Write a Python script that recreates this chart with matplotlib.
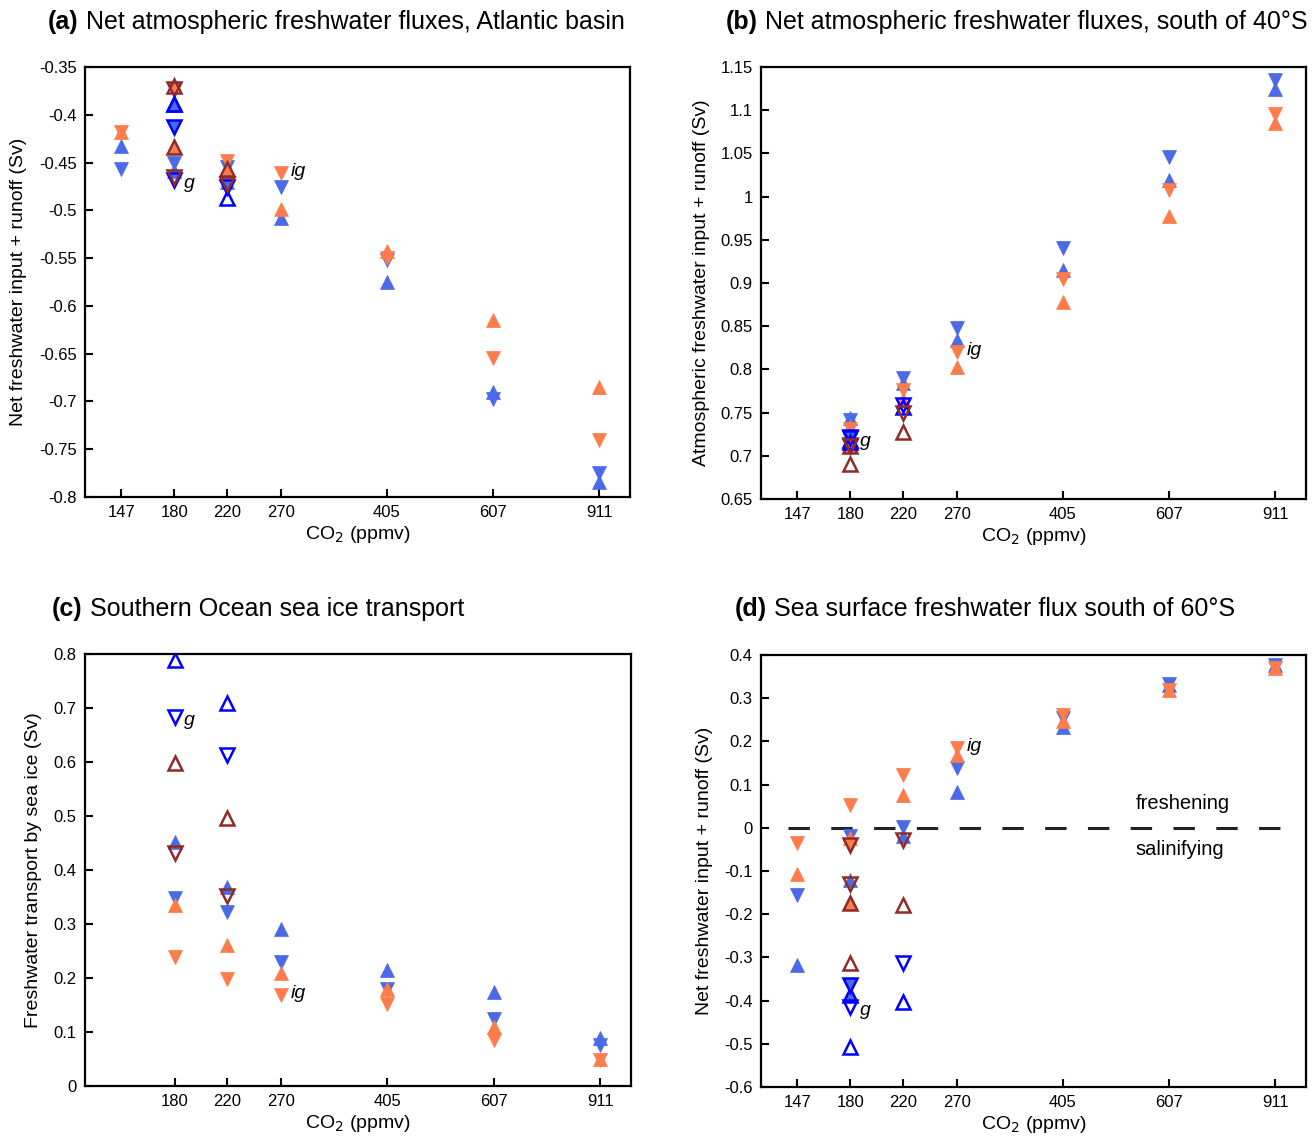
import numpy as np
import matplotlib
matplotlib.use("Agg")
import matplotlib.pyplot as plt
from matplotlib.ticker import NullLocator, FixedLocator, FixedFormatter

plt.rcParams['font.family'] = ['Liberation Sans', 'DejaVu Sans']
plt.rcParams['axes.unicode_minus'] = False

nan = np.nan
co2 = [147, 180, 220, 270, 405, 607, 911]

# ---------------- panel (a) ----------------
a_B_up = [-0.433, -0.459, -0.470, -0.508, -0.575, -0.690, -0.784]
a_B_dn = [-0.457, -0.450, -0.455, -0.476, -0.552, -0.697, -0.775]
a_C_up = [-0.418, -0.434, -0.460, -0.499, -0.543, -0.615, -0.685]
a_C_dn = [-0.418, -0.374, -0.448, -0.461, -0.550, -0.655, -0.740]
a_FB_up = [nan, -0.389, nan, nan, nan, nan, nan]
a_FB_dn = [nan, -0.413, nan, nan, nan, nan, nan]
a_FR_up = [nan, -0.434, nan, nan, nan, nan, nan]
a_FR_dn = [nan, -0.373, nan, nan, nan, nan, nan]
a_OB_up = [nan, -0.389, -0.487, nan, nan, nan, nan]
a_OB_dn = [nan, -0.468, -0.476, nan, nan, nan, nan]
a_OR_up = [nan, -0.370, -0.457, nan, nan, nan, nan]
a_OR_dn = [nan, -0.465, -0.472, nan, nan, nan, nan]

# ---------------- panel (b) ----------------
b_B_up = [nan, 0.744, 0.784, 0.834, 0.915, 1.019, 1.125]
b_B_dn = [nan, 0.742, 0.790, 0.848, 0.941, 1.046, 1.135]
b_C_up = [nan, 0.733, 0.765, 0.803, 0.878, 0.977, 1.085]
b_C_dn = [nan, 0.731, 0.776, 0.820, 0.905, 1.008, 1.096]
b_FB_up = [nan, 0.718, nan, nan, nan, nan, nan]
b_FB_dn = [nan, 0.722, nan, nan, nan, nan, nan]
b_FR_up = [nan, 0.711, nan, nan, nan, nan, nan]
b_FR_dn = [nan, 0.712, nan, nan, nan, nan, nan]
b_OB_up = [nan, 0.716, 0.757, nan, nan, nan, nan]
b_OB_dn = [nan, 0.721, 0.759, nan, nan, nan, nan]
b_OR_up = [nan, 0.690, 0.728, nan, nan, nan, nan]
b_OR_dn = [nan, 0.711, 0.749, nan, nan, nan, nan]

# ---------------- panel (c) ----------------
c_B_up = [nan, 0.451, 0.369, 0.290, 0.215, 0.175, 0.089]
c_B_dn = [nan, 0.348, 0.323, 0.230, 0.179, 0.124, 0.076]
c_C_up = [nan, 0.335, 0.261, 0.209, 0.180, 0.110, 0.050]
c_C_dn = [nan, 0.239, 0.199, 0.169, 0.152, 0.086, 0.049]
c_FB_up = [nan] * 7
c_FB_dn = [nan] * 7
c_FR_up = [nan] * 7
c_FR_dn = [nan] * 7
c_OB_up = [nan, 0.789, 0.709, nan, nan, nan, nan]
c_OB_dn = [nan, 0.684, 0.613, nan, nan, nan, nan]
c_OR_up = [nan, 0.599, 0.496, nan, nan, nan, nan]
c_OR_dn = [nan, 0.432, 0.351, nan, nan, nan, nan]

# ---------------- panel (d) ----------------
d_B_up = [-0.318, -0.120, -0.020, 0.084, 0.233, 0.331, 0.378]
d_B_dn = [-0.156, -0.020, 0.003, 0.138, 0.255, 0.333, 0.376]
d_C_up = [-0.106, -0.023, 0.076, 0.169, 0.248, 0.320, 0.369]
d_C_dn = [-0.036, 0.053, 0.122, 0.184, 0.262, 0.320, 0.369]
d_FB_up = [nan, -0.387, nan, nan, nan, nan, nan]
d_FB_dn = [nan, -0.364, nan, nan, nan, nan, nan]
d_FR_up = [nan, -0.175, nan, nan, nan, nan, nan]
d_FR_dn = [nan, -0.039, nan, nan, nan, nan, nan]
d_OB_up = [nan, -0.507, -0.403, nan, nan, nan, nan]
d_OB_dn = [nan, -0.414, -0.314, nan, nan, nan, nan]
d_OR_up = [nan, -0.314, -0.179, nan, nan, nan, nan]
d_OR_dn = [nan, -0.130, -0.028, nan, nan, nan, nan]

titles = ["Net atmospheric freshwater fluxes, Atlantic basin",
          "Net atmospheric freshwater fluxes, south of 40°S",
          "Southern Ocean sea ice transport",
          "Sea surface freshwater flux south of 60°S"]
panel_tags = ["(a)", "(b)", "(c)", "(d)"]
ylabels = ["Net freshwater input + runoff (Sv)",
           "Atmospheric freshwater input + runoff (Sv)",
           "Freshwater transport by sea ice (Sv)",
           "Net freshwater input + runoff (Sv)"]
yticks_a = [-0.35, -0.4, -0.45, -0.5, -0.55, -0.6, -0.65, -0.7, -0.75, -0.8]
yticks_b = [0.65, 0.7, 0.75, 0.8, 0.85, 0.9, 0.95, 1, 1.05, 1.1, 1.15]
yticks_c = [0, 0.1, 0.2, 0.3, 0.4, 0.5, 0.6, 0.7, 0.8]
yticks_d = [-0.6, -0.5, -0.4, -0.3, -0.2, -0.1, 0, 0.1, 0.2, 0.3, 0.4]
xticks_abd = [147, 180, 220, 270, 405, 607, 911]
xticks_c = [180, 220, 270, 405, 607, 911]

ROYAL = '#4a6ae6'
CORAL = '#fd7c4c'
BLUE = '#0000ff'
BROWN = '#8e2b2b'

W, H = 1314, 1140
fig = plt.figure(figsize=(W / 100, H / 100), dpi=100)

boxes = [(85, 630, 67, 497), (761, 1306, 67, 499),
         (85, 631, 654, 1086), (761, 1306, 655, 1087)]
ylims = [(-0.8, -0.35), (0.65, 1.15), (0, 0.8), (-0.6, 0.4)]
yt = [yticks_a, yticks_b, yticks_c, yticks_d]
xt = [xticks_abd, xticks_abd, xticks_c, xticks_abd]
ylab_x = [-0.106, -0.094, -0.079, -0.088]
title_pos = [(48, 22), (726, 22), (52, 609), (735, 609)]

data = [
    dict(B_up=a_B_up, B_dn=a_B_dn, C_up=a_C_up, C_dn=a_C_dn, FB_up=a_FB_up, FB_dn=a_FB_dn,
         FR_up=a_FR_up, FR_dn=a_FR_dn, OB_up=a_OB_up, OB_dn=a_OB_dn, OR_up=a_OR_up, OR_dn=a_OR_dn),
    dict(B_up=b_B_up, B_dn=b_B_dn, C_up=b_C_up, C_dn=b_C_dn, FB_up=b_FB_up, FB_dn=b_FB_dn,
         FR_up=b_FR_up, FR_dn=b_FR_dn, OB_up=b_OB_up, OB_dn=b_OB_dn, OR_up=b_OR_up, OR_dn=b_OR_dn),
    dict(B_up=c_B_up, B_dn=c_B_dn, C_up=c_C_up, C_dn=c_C_dn, FB_up=c_FB_up, FB_dn=c_FB_dn,
         FR_up=c_FR_up, FR_dn=c_FR_dn, OB_up=c_OB_up, OB_dn=c_OB_dn, OR_up=c_OR_up, OR_dn=c_OR_dn),
    dict(B_up=d_B_up, B_dn=d_B_dn, C_up=d_C_up, C_dn=d_C_dn, FB_up=d_FB_up, FB_dn=d_FB_dn,
         FR_up=d_FR_up, FR_dn=d_FR_dn, OB_up=d_OB_up, OB_dn=d_OB_dn, OR_up=d_OR_up, OR_dn=d_OR_dn),
]

styles = [
    ('B_up', '^', ROYAL, ROYAL, 0.5),
    ('B_dn', 'v', ROYAL, ROYAL, 0.5),
    ('C_up', '^', CORAL, CORAL, 0.5),
    ('C_dn', 'v', CORAL, CORAL, 0.5),
    ('FB_up', '^', ROYAL, BLUE, 1.8),
    ('FB_dn', 'v', ROYAL, BLUE, 1.8),
    ('FR_up', '^', CORAL, BROWN, 1.8),
    ('FR_dn', 'v', CORAL, BROWN, 1.8),
    ('OB_up', '^', 'none', BLUE, 1.8),
    ('OB_dn', 'v', 'none', BLUE, 1.8),
    ('OR_up', '^', 'none', BROWN, 1.8),
    ('OR_dn', 'v', 'none', BROWN, 1.8),
]

for i in range(4):
    l, r, t, b = boxes[i]
    ax = fig.add_axes([l / W, 1 - b / H, (r - l) / W, (b - t) / H])
    ax.set_xscale('log')
    ax.set_xlim(128, 1024)
    ax.set_ylim(*ylims[i])
    for key, mk, fc, ec, mew in styles:
        ax.plot(co2, data[i][key], linestyle='none', marker=mk, ms=10,
                mfc=fc, mec=ec, mew=mew, zorder=3)
    ax.xaxis.set_major_locator(FixedLocator(xt[i]))
    ax.xaxis.set_major_formatter(FixedFormatter([str(v) for v in xt[i]]))
    ax.xaxis.set_minor_locator(NullLocator())
    ax.yaxis.set_major_locator(FixedLocator(yt[i]))
    ax.yaxis.set_major_formatter(FixedFormatter(['{:g}'.format(v) for v in yt[i]]))
    ax.tick_params(direction='in', length=6, width=1.5, labelsize=12, pad=6,
                   top=False, right=False)
    for s in ax.spines.values():
        s.set_linewidth(1.6)
    ax.set_ylabel(ylabels[i], fontsize=14)
    ax.yaxis.set_label_coords(ylab_x[i], 0.5)
    ax.set_xlabel('CO$_2$ (ppmv)', fontsize=14)
    ax.xaxis.set_label_coords(0.5, -0.062)

    # labels g / ig
    ax.annotate('g', xy=(180, data[i]['OB_dn'][1]), xytext=(7, -3),
                textcoords='offset points', ha='left', va='center',
                fontsize=14, style='italic')
    ax.annotate('ig', xy=(270, data[i]['C_dn'][3]), xytext=(7, 1),
                textcoords='offset points', ha='left', va='center',
                fontsize=14, style='italic')

    # titles
    tx, ty = title_pos[i]
    t1 = fig.text(tx / W, 1 - ty / H, panel_tags[i], fontsize=18,
                  fontweight='bold', ha='left', va='center')
    ax.annotate(' ' + titles[i], xy=(1, 0.5), xycoords=t1, ha='left', va='center',
                fontsize=18, annotation_clip=False)

    if i == 3:
        ax.plot([142, 1000], [0, 0], color='#222222', lw=2.2, dashes=(7, 7), zorder=2)
        ax.text(0.774, 0.657, 'freshening', transform=ax.transAxes, fontsize=14.5,
                ha='center', va='center')
        ax.text(0.769, 0.549, 'salinifying', transform=ax.transAxes, fontsize=14.5,
                ha='center', va='center')

fig.savefig('out.png', dpi=100)
